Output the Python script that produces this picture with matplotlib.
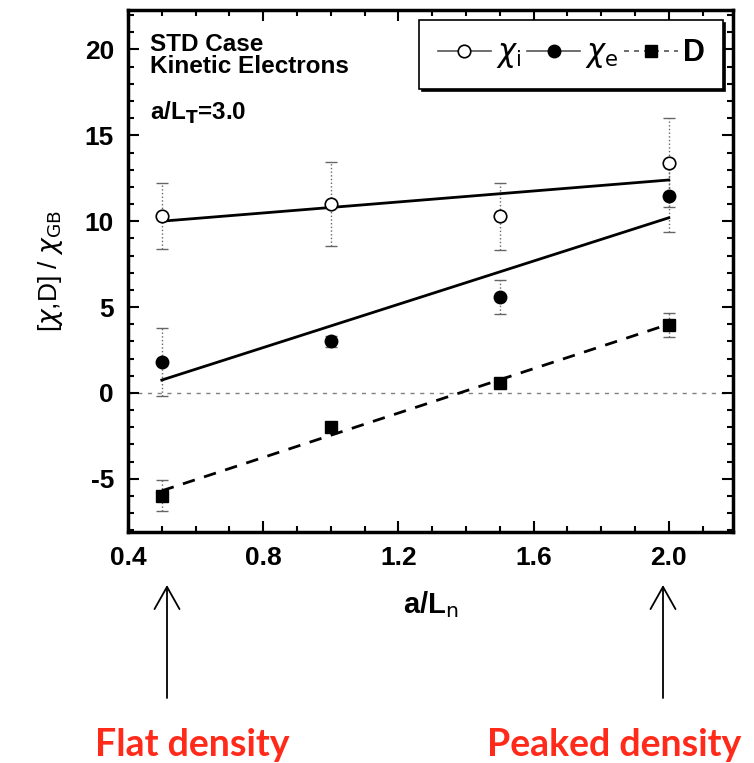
import numpy as np
import matplotlib
matplotlib.use("Agg")
import matplotlib.pyplot as plt
from matplotlib.ticker import MultipleLocator, FormatStrFormatter

plt.rcParams['font.family'] = ['Liberation Sans', 'DejaVu Sans']
plt.rcParams['mathtext.fontset'] = 'dejavusans'
plt.rcParams['axes.unicode_minus'] = False

# data
a_Ln = [0.5, 1.0, 1.5, 2.0]
chi_i = [10.3, 11.0, 10.3, 13.4]
chi_i_err = [1.9, 2.45, 1.95, 2.6]
chi_e = [1.8, 3.0, 5.6, 11.45]
chi_e_err = [2.0, 0.3, 1.0, 2.05]
D = [-6.0, -2.0, 0.6, 3.95]
D_err = [0.9, 0.3, 0.2, 0.7]

# fit lines (end points)
fit_x = [0.5, 2.0]
fit_chi_i = [10.0, 12.4]
fit_chi_e = [0.75, 10.2]
fit_D = [-5.7, 4.0]

font_size = 19

fig = plt.figure(figsize=(7.54, 7.63), dpi=100)
ax = fig.add_axes([128/754, 1-532/763, (733-128)/754, (532-10)/763])

ax.axhline(0, linestyle=(0, (3, 4)), color='gray', lw=1, zorder=1)

for y, e in [(chi_i, chi_i_err), (chi_e, chi_e_err), (D, D_err)]:
    eb = ax.errorbar(a_Ln, y, yerr=e, fmt='none', ecolor='#666666',
                     elinewidth=1, capsize=4, capthick=1, zorder=2)
    eb[2][0].set_linestyle(':')

ax.plot(fit_x, fit_chi_i, color='black', lw=2, zorder=3)
ax.plot(fit_x, fit_chi_e, color='black', lw=2, zorder=3)
ax.plot(fit_x, fit_D, color='black', lw=2, linestyle=(0, (4.5, 3.5)), zorder=3)

ax.plot(a_Ln, chi_i, 'o', ms=9, mfc='white', mec='black', mew=1.2, zorder=4)
ax.plot(a_Ln, chi_e, 'o', ms=9, mfc='black', mec='black', zorder=4)
ax.plot(a_Ln, D, 's', ms=9, mfc='black', mec='black', zorder=4)

# legend handles
h1, = ax.plot([], [], '-o', color='#555555', lw=1.2, ms=9, mfc='white', mec='black', mew=1.2)
h2, = ax.plot([], [], '-o', color='#555555', lw=1.2, ms=9, mfc='black', mec='black')
h3, = ax.plot([], [], 's', color='#555555', lw=1.2, ms=8, mfc='black', mec='black',
              linestyle=(0, (3, 3)))
leg = ax.legend([h1, h2, h3], [r'$\chi_{\rm i}$', r'$\chi_{\rm e}$', 'D'],
                loc='upper right', bbox_to_anchor=(0.983, 0.981), ncol=3,
                fontsize=22, handlelength=1.75, handletextpad=0.15,
                columnspacing=0.2, borderpad=0.6, borderaxespad=0,
                fancybox=False, shadow={'color': 'black', 'alpha': 1.0})
leg.get_frame().set_edgecolor('black')
leg.get_frame().set_linewidth(1.2)
leg.get_frame().set_alpha(1)
for t in leg.get_texts():
    t.set_fontweight('bold')

ax.set_xlim(0.4, 2.19)
ax.set_ylim(-8.1, 22.3)
ax.xaxis.set_major_locator(MultipleLocator(0.4))
ax.xaxis.set_minor_locator(MultipleLocator(0.1))
ax.yaxis.set_major_locator(MultipleLocator(5))
ax.yaxis.set_minor_locator(MultipleLocator(1))
ax.xaxis.set_major_formatter(FormatStrFormatter('%.1f'))
ax.tick_params(which='both', direction='in', top=True, right=True, width=1.5)
ax.tick_params(which='major', length=8, labelsize=font_size, pad=10)
ax.tick_params(which='minor', length=4)
for lab in ax.get_xticklabels() + ax.get_yticklabels():
    lab.set_fontweight('bold')
for s in ax.spines.values():
    s.set_linewidth(2.5)

ax.set_xlabel(r'a/L$_{\rm n}$', fontsize=21, fontweight='bold', labelpad=14)
ax.set_ylabel(r'[$\chi$,D] / $\chi_{\rm GB}$', fontsize=19, labelpad=14)

ax.text(0.036, 0.956, 'STD Case\nKinetic Electrons', transform=ax.transAxes,
        fontsize=17.5, fontweight='bold', va='top', ha='left', linespacing=0.95)
ax.text(0.036, 0.79, r'a/L$_{\bf T}$=3.0', transform=ax.transAxes,
        fontsize=17.5, fontweight='bold', va='baseline', ha='left')

# arrows and labels below
for xf in [167/754, 663/754]:
    fig.add_artist(plt.Annotation('', xy=(xf, 1-585/763), xytext=(xf, 1-698/763),
                                  xycoords='figure fraction', textcoords='figure fraction',
                                  arrowprops=dict(arrowstyle='->,head_length=0.8,head_width=0.45',
                                                  color='black', lw=1.3, mutation_scale=20,
                                                  shrinkA=0, shrinkB=0)))

red = '#ff2a1a'
fig.text(192/754, 1-756/763, 'Flat density', color=red, fontsize=27,
         fontweight='bold', family='Lato', ha='center', va='baseline')
fig.text(614/754, 1-756/763, 'Peaked density', color=red, fontsize=27,
         fontweight='bold', family='Lato', ha='center', va='baseline')

fig.savefig('out.png', dpi=100)
